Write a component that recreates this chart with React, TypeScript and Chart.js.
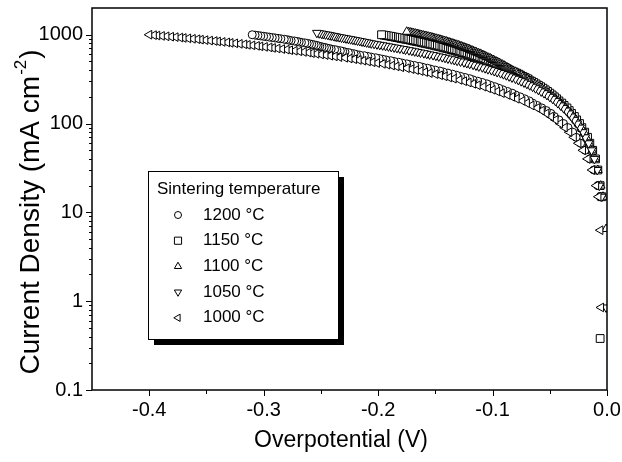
import React, { useEffect, useRef } from "react";
import { Chart, registerables } from "chart.js";

Chart.register(...registerables);

// ---------- data ----------
const seriesLabels = ["1200 °C", "1150 °C", "1100 °C", "1050 °C", "1000 °C"];
const seriesStyles = ["circle", "rect", "triangle", "triangle", "triangle"];
const seriesRotations = [0, 0, 0, 180, 270];

// current density sweep (mA cm^-2)
const currentSweep = [
  1000, 990, 980, 970, 960, 950, 940, 930, 920, 910,
  900, 890, 880, 870, 860, 850, 840, 830, 820, 810,
  800, 790, 780, 770, 760, 750, 740, 730, 720, 710,
  700, 690, 680, 670, 660, 650, 640, 630, 620, 610,
  600, 590, 580, 570, 560, 550, 540, 530, 520, 510,
  500, 490, 480, 470, 460, 450, 440, 430, 420, 410,
  400, 390, 380, 370, 360, 350, 340, 330, 320, 310,
  300, 290, 280, 270, 260, 250, 240, 230, 220, 210,
  200, 190, 180, 170, 160, 150, 140, 130, 120, 110,
  100, 90, 80, 70, 60, 50, 40, 30, 20, 15,
];
const currentHead1100 = [1080, 1070, 1060, 1050, 1040, 1030, 1020, 1010];
const currentHead1050 = [1050, 1040, 1030, 1020, 1010];

const voltage1200 = [
  -0.310, -0.3075, -0.305, -0.3025, -0.300, -0.2975, -0.295, -0.2925, -0.290, -0.2875,
  -0.285, -0.282, -0.280, -0.278, -0.276, -0.273, -0.271, -0.269, -0.267, -0.264,
  -0.262, -0.260, -0.258, -0.256, -0.254, -0.2525, -0.251, -0.249, -0.247, -0.245,
  -0.243, -0.241, -0.238, -0.236, -0.233, -0.231, -0.229, -0.226, -0.224, -0.221,
  -0.219, -0.216, -0.212, -0.209, -0.206, -0.202, -0.199, -0.196, -0.193, -0.189,
  -0.186, -0.182, -0.179, -0.175, -0.172, -0.168, -0.164, -0.161, -0.157, -0.154,
  -0.150, -0.146, -0.143, -0.139, -0.135, -0.1315, -0.128, -0.124, -0.120, -0.117,
  -0.113, -0.109, -0.105, -0.102, -0.098, -0.0945, -0.091, -0.087, -0.083, -0.080,
  -0.076, -0.072, -0.068, -0.065, -0.061, -0.057, -0.053, -0.049, -0.046, -0.042,
  -0.038, -0.034, -0.030, -0.027, -0.023, -0.019, -0.015, -0.0115, -0.008, -0.006,
];
const current1200 = [...currentSweep];

const voltage1150 = [
  -0.197, -0.195, -0.193, -0.191, -0.189, -0.1875, -0.1855, -0.1835, -0.1815, -0.180,
  -0.178, -0.176, -0.174, -0.172, -0.170, -0.1685, -0.1665, -0.1645, -0.1625, -0.161,
  -0.159, -0.157, -0.155, -0.153, -0.151, -0.1495, -0.1475, -0.1455, -0.1435, -0.142,
  -0.140, -0.138, -0.136, -0.1345, -0.1325, -0.131, -0.129, -0.127, -0.1255, -0.1235,
  -0.122, -0.120, -0.118, -0.116, -0.1145, -0.1125, -0.1105, -0.1085, -0.107, -0.105,
  -0.103, -0.101, -0.099, -0.0975, -0.0955, -0.094, -0.092, -0.090, -0.088, -0.0865,
  -0.085, -0.083, -0.081, -0.079, -0.077, -0.0755, -0.0735, -0.0715, -0.0695, -0.068,
  -0.066, -0.064, -0.062, -0.060, -0.058, -0.056, -0.054, -0.052, -0.050, -0.048,
  -0.046, -0.044, -0.042, -0.0395, -0.0375, -0.035, -0.033, -0.031, -0.0285, -0.0265,
  -0.024, -0.022, -0.0195, -0.017, -0.015, -0.0125, -0.010, -0.008, -0.006, -0.0045,
  -0.006,
];
const current1150 = [...currentSweep, 0.38];

const voltage1100 = [
  -0.175, -0.1735, -0.172, -0.1705, -0.169, -0.1675, -0.166, -0.165,
  -0.1635, -0.162, -0.1605, -0.159, -0.1575, -0.156, -0.1545, -0.153, -0.152, -0.1505,
  -0.149, -0.1475, -0.146, -0.145, -0.1435, -0.142, -0.1405, -0.1395, -0.138, -0.137,
  -0.1355, -0.134, -0.133, -0.1315, -0.130, -0.129, -0.1275, -0.1265, -0.125, -0.124,
  -0.1225, -0.121, -0.120, -0.119, -0.1175, -0.1165, -0.115, -0.114, -0.1125, -0.111,
  -0.110, -0.1085, -0.1075, -0.106, -0.105, -0.1035, -0.102, -0.101, -0.0995, -0.0985,
  -0.097, -0.0955, -0.094, -0.093, -0.0915, -0.090, -0.089, -0.0875, -0.086, -0.085,
  -0.0835, -0.082, -0.080, -0.0785, -0.077, -0.075, -0.0735, -0.072, -0.070, -0.0685,
  -0.067, -0.065, -0.063, -0.061, -0.059, -0.057, -0.055, -0.053, -0.051, -0.049,
  -0.047, -0.045, -0.0425, -0.0405, -0.038, -0.036, -0.034, -0.0315, -0.0295, -0.027,
  -0.025, -0.0225, -0.020, -0.018, -0.0155, -0.013, -0.0105, -0.008, -0.0055, -0.0035,
  -0.0008,
];
const current1100 = [...currentHead1100, ...currentSweep, 6.5];

const voltage1050 = [
  -0.2535, -0.2515, -0.2495, -0.248, -0.246,
  -0.244, -0.2425, -0.241, -0.239, -0.2375, -0.236, -0.234, -0.232, -0.230, -0.228,
  -0.226, -0.224, -0.222, -0.220, -0.218, -0.216, -0.214, -0.212, -0.210, -0.208,
  -0.206, -0.2035, -0.201, -0.1985, -0.196, -0.1935, -0.191, -0.1885, -0.186, -0.1835,
  -0.181, -0.178, -0.176, -0.173, -0.1705, -0.168, -0.1655, -0.163, -0.160, -0.1575,
  -0.155, -0.152, -0.1495, -0.147, -0.144, -0.1415, -0.139, -0.136, -0.1335, -0.131,
  -0.128, -0.125, -0.1225, -0.120, -0.117, -0.1145, -0.112, -0.109, -0.1065, -0.104,
  -0.101, -0.0985, -0.096, -0.093, -0.0905, -0.088, -0.0855, -0.083, -0.080, -0.0775,
  -0.075, -0.0725, -0.070, -0.0675, -0.065, -0.0625, -0.060, -0.0575, -0.055, -0.0525,
  -0.050, -0.0475, -0.045, -0.043, -0.0405, -0.038, -0.0355, -0.033, -0.031, -0.0285,
  -0.026, -0.0235, -0.021, -0.019, -0.016, -0.0135, -0.011, -0.0085, -0.0065, -0.0045,
  -0.0008,
];
const current1050 = [...currentHead1050, ...currentSweep, 0.85];

const voltage1000 = [
  -0.400, -0.396, -0.393, -0.389, -0.385, -0.381, -0.377, -0.373, -0.370, -0.366,
  -0.362, -0.358, -0.355, -0.351, -0.347, -0.343, -0.340, -0.336, -0.332, -0.329,
  -0.325, -0.321, -0.317, -0.314, -0.310, -0.306, -0.303, -0.299, -0.295, -0.292,
  -0.288, -0.284, -0.280, -0.277, -0.273, -0.269, -0.265, -0.261, -0.258, -0.254,
  -0.250, -0.246, -0.242, -0.238, -0.234, -0.229, -0.225, -0.221, -0.217, -0.213,
  -0.209, -0.205, -0.201, -0.196, -0.192, -0.188, -0.184, -0.180, -0.175, -0.171,
  -0.167, -0.163, -0.159, -0.155, -0.150, -0.146, -0.142, -0.138, -0.134, -0.129,
  -0.125, -0.121, -0.117, -0.113, -0.108, -0.104, -0.100, -0.096, -0.092, -0.087,
  -0.083, -0.079, -0.074, -0.070, -0.066, -0.061, -0.057, -0.053, -0.049, -0.045,
  -0.041, -0.037, -0.033, -0.029, -0.025, -0.021, -0.017, -0.013, -0.0095, -0.0075,
  -0.0058, -0.0052,
];
const current1000 = [...currentSweep, 6.3, 0.85];

const seriesVoltages = [voltage1200, voltage1150, voltage1100, voltage1050, voltage1000];
const seriesCurrents = [current1200, current1150, current1100, current1050, current1000];

// axes
const xTickValues = [-0.45, -0.4, -0.35, -0.3, -0.25, -0.2, -0.15, -0.1, -0.05, 0];
const xTickLabels = ["", "-0.4", "", "-0.3", "", "-0.2", "", "-0.1", "", "0.0"];
const yTickValues = [
  0.1, 0.2, 0.3, 0.4, 0.5, 0.6, 0.7, 0.8, 0.9,
  1, 2, 3, 4, 5, 6, 7, 8, 9,
  10, 20, 30, 40, 50, 60, 70, 80, 90,
  100, 200, 300, 400, 500, 600, 700, 800, 900,
  1000, 2000,
];
const yDecadeValues = [0.1, 1, 10, 100, 1000];
const yDecadeLabels = ["0.1", "1", "10", "100", "1000"];

const xTitle = "Overpotential (V)";
const yTitleMain = "Current Density (mA cm";
const yTitleSup = "-2";
const yTitleEnd = ")";
const legendTitle = "Sintering temperature";

const FONT = "'Liberation Sans', Arial, Helvetica, sans-serif";

function isDecade(v: number) {
  return yDecadeValues.some((d) => Math.abs(d - v) / d < 1e-6);
}

function drawSymbol(
  ctx: CanvasRenderingContext2D,
  style: string,
  rot: number,
  x: number,
  y: number,
  r: number
) {
  ctx.beginPath();
  if (style === "circle") {
    ctx.arc(x, y, r, 0, Math.PI * 2);
  } else if (style === "rect") {
    const s = r * 0.85;
    ctx.rect(x - s, y - s, 2 * s, 2 * s);
  } else {
    const a0 = (rot * Math.PI) / 180;
    for (let k = 0; k < 3; k++) {
      const a = a0 + (k * 2 * Math.PI) / 3;
      const px = x + Math.sin(a) * r;
      const py = y - Math.cos(a) * r;
      if (k === 0) ctx.moveTo(px, py);
      else ctx.lineTo(px, py);
    }
    ctx.closePath();
  }
  ctx.fillStyle = "#fff";
  ctx.fill();
  ctx.stroke();
}

const decorPlugin = {
  id: "decor",
  afterDraw(chart: any) {
    const ctx: CanvasRenderingContext2D = chart.ctx;
    const { left, right, top, bottom } = chart.chartArea;
    const xs = chart.scales.x;
    const ys = chart.scales.y;
    ctx.save();
    ctx.strokeStyle = "#000";
    ctx.fillStyle = "#000";

    // frame
    ctx.lineWidth = 1.5;
    ctx.strokeRect(left, top, right - left, bottom - top);

    // ticks
    ctx.lineWidth = 1;
    xs.ticks.forEach((t: any, i: number) => {
      const v = t.value;
      if (v <= -0.449) return;
      const px = Math.round(xs.getPixelForValue(v)) + 0.5;
      const len = xTickLabels[i] ? 6 : 4;
      ctx.beginPath();
      ctx.moveTo(px, bottom);
      ctx.lineTo(px, bottom + len);
      ctx.stroke();
    });
    ys.ticks.forEach((t: any) => {
      const v = t.value;
      const py = Math.round(ys.getPixelForValue(v)) + 0.5;
      if (py < top + 1) return;
      const len = isDecade(v) ? 6 : 3;
      ctx.beginPath();
      ctx.moveTo(left, py);
      ctx.lineTo(left - len, py);
      ctx.stroke();
    });

    // x title
    ctx.fillStyle = "#000";
    ctx.font = `23px ${FONT}`;
    ctx.textAlign = "center";
    ctx.textBaseline = "middle";
    ctx.fillText(xTitle, 341, 441);

    // y title (rotated with superscript)
    ctx.save();
    ctx.translate(31, 212);
    ctx.rotate(-Math.PI / 2);
    ctx.textAlign = "left";
    ctx.textBaseline = "middle";
    ctx.font = `28px ${FONT}`;
    const wMain = ctx.measureText(yTitleMain).width;
    const wEnd = ctx.measureText(yTitleEnd).width;
    ctx.font = `17px ${FONT}`;
    const wSup = ctx.measureText(yTitleSup).width;
    const total = wMain + wSup + 2 + wEnd;
    let cx = -total / 2;
    ctx.font = `28px ${FONT}`;
    ctx.fillText(yTitleMain, cx, 0);
    cx += wMain + 1;
    ctx.font = `17px ${FONT}`;
    ctx.fillText(yTitleSup, cx, -10);
    cx += wSup + 1;
    ctx.font = `28px ${FONT}`;
    ctx.fillText(yTitleEnd, cx, 0);
    ctx.restore();

    // legend box with shadow
    const bx = 148, by = 171, bw = 190, bh = 168;
    ctx.fillStyle = "#000";
    ctx.fillRect(bx + 6, by + 6, bw, bh);
    ctx.fillStyle = "#fff";
    ctx.fillRect(bx, by, bw, bh);
    ctx.lineWidth = 1;
    ctx.strokeStyle = "#000";
    ctx.strokeRect(bx + 0.5, by + 0.5, bw, bh);

    ctx.fillStyle = "#000";
    ctx.font = `17px ${FONT}`;
    ctx.textAlign = "left";
    ctx.textBaseline = "middle";
    ctx.fillText(legendTitle, 157, 189);
    seriesLabels.forEach((lab, i) => {
      const y = 215 + i * 25.7;
      ctx.strokeStyle = "#000";
      ctx.lineWidth = 1;
      drawSymbol(ctx, seriesStyles[i], seriesRotations[i], 178, y, seriesStyles[i] === "circle" ? 3.5 : 4.2);
      ctx.fillStyle = "#000";
      ctx.font = `17px ${FONT}`;
      ctx.fillText(lab, 203, y);
    });

    ctx.restore();
  },
};

export default function App() {
  const canvasRef = useRef<HTMLCanvasElement | null>(null);

  useEffect(() => {
    if (!canvasRef.current) return;
    const datasets = seriesLabels.map((label, i) => {
      const pts = seriesVoltages[i].map((v, k) => ({ x: v, y: seriesCurrents[i][k] }));
      pts.reverse();
      return {
        label,
        data: pts,
        showLine: false,
        pointStyle: seriesStyles[i] as any,
        rotation: seriesRotations[i],
        pointRadius: seriesStyles[i] === "circle" ? 4 : seriesStyles[i] === "rect" ? 5.5 : 5,
        pointBorderWidth: 1,
        borderWidth: 1,
        borderColor: "#000",
        backgroundColor: "#fff",
        pointBackgroundColor: "#fff",
        pointBorderColor: "#000",
        order: 5 - i,
        clip: 0,
      };
    });

    const chart = new Chart(canvasRef.current, {
      type: "scatter",
      data: { datasets },
      options: {
        responsive: false,
        devicePixelRatio: 1,
        animation: false,
        events: [],
        layout: { padding: { left: 0, right: 15, top: 8, bottom: 0 } },
        plugins: { legend: { display: false }, tooltip: { enabled: false }, title: { display: false } },
        scales: {
          x: {
            type: "linear",
            min: -0.45,
            max: 0,
            grid: { display: false, drawTicks: false, tickLength: 0 },
            border: { display: false },
            afterBuildTicks: (scale: any) => {
              scale.ticks = xTickValues.map((v) => ({ value: v }));
            },
            afterFit: (scale: any) => {
              scale.height = 72;
              scale.paddingLeft = 0;
              scale.paddingRight = 0;
            },
            ticks: {
              autoSkip: false,
              maxRotation: 0,
              padding: 8,
              color: "#000",
              font: { family: FONT, size: 20 },
              callback: (_v: any, index: number) => xTickLabels[index] ?? "",
            },
          },
          y: {
            type: "logarithmic",
            min: 0.1,
            max: 2000,
            grid: { display: false, drawTicks: false, tickLength: 0 },
            border: { display: false },
            afterBuildTicks: (scale: any) => {
              scale.ticks = yTickValues.map((v) => ({ value: v }));
            },
            afterFit: (scale: any) => {
              scale.width = 92;
              scale.paddingTop = 0;
              scale.paddingBottom = 0;
            },
            ticks: {
              autoSkip: false,
              padding: 9,
              color: "#000",
              font: { family: FONT, size: 20 },
              callback: (v: any) => {
                const idx = yDecadeValues.findIndex((d) => Math.abs(d - Number(v)) / d < 1e-6);
                return idx >= 0 ? yDecadeLabels[idx] : "";
              },
            },
          },
        },
      },
      plugins: [decorPlugin],
    });
    return () => chart.destroy();
  }, []);

  return (
    <div style={{ position: "absolute", left: 0, top: 0, width: 622, height: 462, background: "#fff" }}>
      <canvas ref={canvasRef} width={622} height={462} style={{ display: "block" }} />
    </div>
  );
}
